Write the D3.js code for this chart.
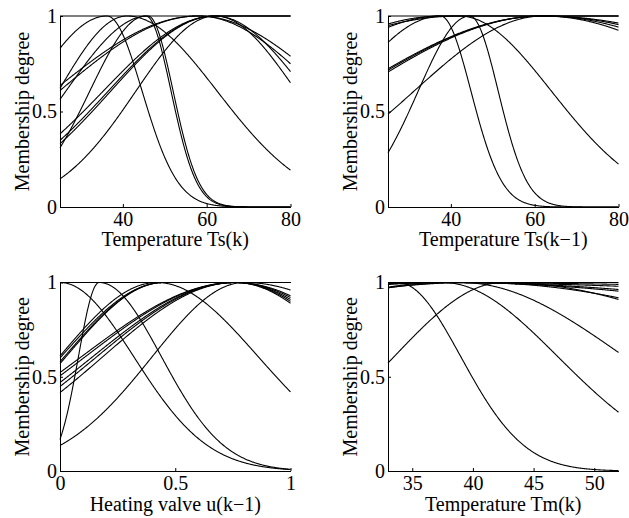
<!DOCTYPE html>
<html>
<head>
<meta charset="utf-8">
<script src="https://cdn.jsdelivr.net/npm/d3@7"></script>
<style>
  body { margin: 0; background: #fff; }
  svg { display: block; }
</style>
</head>
<body>
<div id="container"></div>
<script>
/* DATA */
// every curve is a membership function: centre, width left of the centre, width right of it
// (a width of 1e4 means the curve stays at 1 on that side)

// Temperature Ts(k)
const tsCentre = [50, 36.2, 46, 45.5, 41, 58, 58, 62, 62, 62, 62]
const tsLeft   = [1e4, 18.4, 19.6, 13.4, 16.4, 34.7, 33.2, 26.7, 25.5, 24.9, 18.9]
const tsRight  = [1e4, 8.4, 6, 6, 21.5, 32, 29, 21.7, 19.4, 1e4, 1e4]

// Temperature Ts(k-1)
const ts1Centre = [50, 37.5, 44.5, 42, 38, 38, 62, 62, 62, 62]
const ts1Left   = [1e4, 22.9, 12.3, 53, 44.4, 37, 46, 45.3, 44.4, 30.8]
const ts1Right  = [1e4, 7.3, 6.8, 22, 1e4, 1e4, 65.5, 59.3, 52, 45.6]

// Heating valve u(k-1)
const uCentre = [0.5, 0, 0.17, 0.8, 0.42, 0.45, 0.45, 0.45, 0.76, 0.76, 0.76, 0.76, 0.76]
const uLeft   = [1e4, 1, 0.09, 0.4, 0.4225, 0.445, 0.431, 0.424, 0.667, 0.65, 0.618, 0.6, 0.574]
const uRight  = [1e4, 0.32, 0.27, 0.7, 0.44, 1e4, 1e4, 1e4, 0.63, 0.59, 0.553, 0.523, 0.497]

// Temperature Tm(k)
const tmCentre = [40, 33.8, 37.5, 39, 42.5, 40, 38, 38, 36, 36]
const tmLeft   = [1e4, 5, 20, 25, 9, 30, 40, 35, 50, 60]
const tmRight  = [1e4, 5.2, 9.5, 13.5, 21.9, 29.2, 51, 45.7, 79.6, 113]

// axes
const tsDomain = [25, 80]
const uDomain = [0, 1]
const tmDomain = [33, 52]
const tsTicks = [40, 60, 80]
const uTicks = [0, 0.5, 1]
const tmTicks = [35, 40, 45, 50]
const degreeTicks = [0, 0.5, 1]

/* CONSTANTS */
const width = 629, height = 518
const plotW = 230.5
const font = '"Liberation Serif", "Times New Roman", serif'

const svg = d3.select('#container')
  .append('svg')
  .attr('width', width)
  .attr('height', height)

svg.append('rect').attr('width', width).attr('height', height).attr('fill', '#fff')

const panels = [
  { left: 60, top: 16, bottom: 207, domain: tsDomain, ticks: tsTicks, label: 'Temperature Ts(k)',
    centre: tsCentre, lw: tsLeft, rw: tsRight, labelY: 246 },
  { left: 388, top: 16, bottom: 207, domain: tsDomain, ticks: tsTicks, label: 'Temperature Ts(k\u22121)',
    centre: ts1Centre, lw: ts1Left, rw: ts1Right, labelY: 246 },
  { left: 60, top: 282.5, bottom: 471, domain: uDomain, ticks: uTicks, label: 'Heating valve u(k\u22121)',
    centre: uCentre, lw: uLeft, rw: uRight, labelY: 510.5 },
  { left: 388, top: 282.5, bottom: 471, domain: tmDomain, ticks: tmTicks, label: 'Temperature Tm(k)',
    centre: tmCentre, lw: tmLeft, rw: tmRight, labelY: 510.5 }
]

// gaussian with separate widths on each side of the centre
function membership(x, c, l, r) {
  const s = x < c ? l : r
  return Math.exp(-((x - c) * (x - c)) / (2 * s * s))
}

panels.forEach(p => {
  const xScale = d3.scaleLinear().domain(p.domain).range([p.left, p.left + plotW])
  const yScale = d3.scaleLinear().domain([0, 1]).range([p.bottom, p.top])

  const g = svg.append('g')

  // + CURVES
  const xs = d3.range(0, 401).map(i => p.domain[0] + (p.domain[1] - p.domain[0]) * i / 400)
  const line = d3.line()
    .x(d => xScale(d[0]))
    .y(d => yScale(d[1]))

  p.centre.forEach((c, i) => {
    const pts = xs.map(x => [x, membership(x, c, p.lw[i], p.rw[i])])
    g.append('path')
      .datum(pts)
      .attr('fill', 'none')
      .attr('stroke', '#000')
      .attr('stroke-width', 1.1)
      .attr('d', line)
  })

  // + AXES
  const xAxis = d3.axisBottom(xScale)
    .tickValues(p.ticks)
    .tickSizeInner(-3)
    .tickSizeOuter(0)
    .tickPadding(5)
    .tickFormat(d => String(d))
  const yAxis = d3.axisLeft(yScale)
    .tickValues(degreeTicks)
    .tickSizeInner(-3)
    .tickSizeOuter(0)
    .tickPadding(3)
    .tickFormat(d => String(d))

  const xg = g.append('g')
    .attr('transform', `translate(0, ${p.bottom})`)
    .call(xAxis)
  const yg = g.append('g')
    .attr('transform', `translate(${p.left}, 0)`)
    .call(yAxis)

  ;[xg, yg].forEach(a => {
    a.attr('font-family', font).attr('font-size', 20)
    a.selectAll('path, line').attr('stroke', '#000')
    a.selectAll('text').attr('fill', '#000')
  })

  // + LABELS
  g.append('text')
    .attr('x', p.left + plotW / 2)
    .attr('y', p.labelY)
    .attr('text-anchor', 'middle')
    .attr('font-family', font)
    .attr('font-size', 20)
    .text(p.label)

  g.append('text')
    .attr('transform', `translate(${p.left - 31}, ${(p.top + p.bottom) / 2}) rotate(-90)`)
    .attr('text-anchor', 'middle')
    .attr('font-family', font)
    .attr('font-size', 20)
    .text('Membership degree')
})
</script>
</body>
</html>
